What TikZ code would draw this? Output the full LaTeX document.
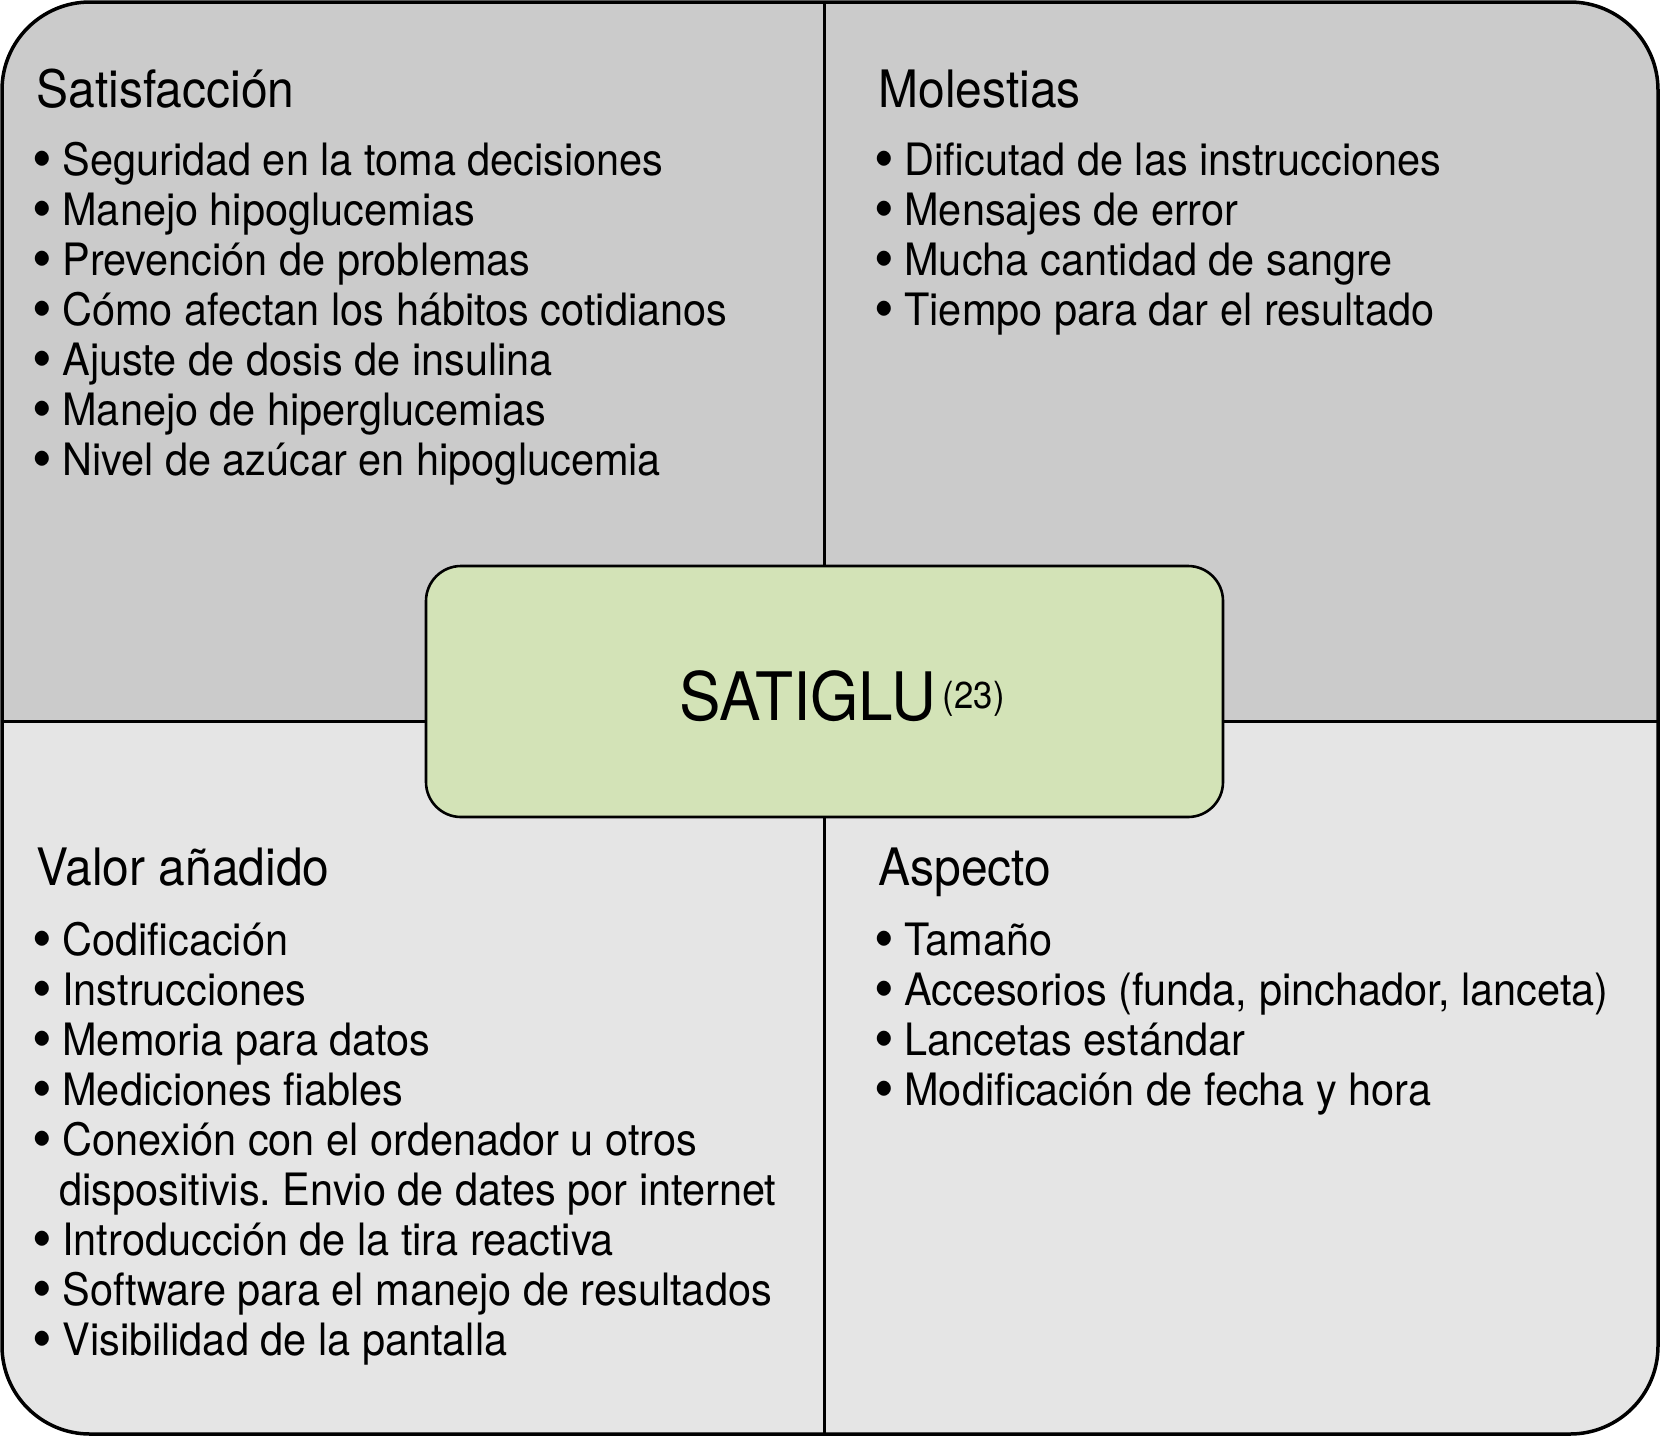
\documentclass[tikz,border=0pt]{standalone}
\usepackage{fontspec}
\setmainfont{TeX Gyre Heros}[FakeStretch=0.93]
\definecolor{topgray}{HTML}{CBCBCB}
\definecolor{botgray}{HTML}{E5E5E5}
\definecolor{boxgreen}{HTML}{D3E3B7}
\newcommand\mybul{\makebox[13pt][l]{\hspace{-1.8pt}\raisebox{-2.2pt}{\scalebox{1.35}{•}}}}
\frenchspacing
\begin{document}
\begin{tikzpicture}[x=0.5pt,y=-0.5pt,
  hdr/.style={anchor=base west,inner sep=0pt,font=\fontsize{25.8}{30}\selectfont},
  itm/.style={anchor=base west,inner sep=0pt,font=\fontsize{22.3}{26}\selectfont},
  divider/.style={line width=1.5pt},
  frame/.style={line width=1.75pt,rounded corners=44pt},
  corebox/.style={draw,line width=1.3pt,fill=boxgreen,rounded corners=17.5pt,
    minimum width=398.5pt,minimum height=125.5pt,inner sep=0pt}]
\useasboundingbox (0,0) rectangle (1660,1436);
\begin{scope}
  \clip[rounded corners=44pt] (2,2) rectangle (1658,1434);
  \fill[topgray] (0,0) rectangle (1660,721);
  \fill[botgray] (0,721) rectangle (1660,1436);
\end{scope}
\draw[divider] (824,2) -- (824,1434);
\draw[divider] (2,721) -- (1658,721);
\draw[frame] (2,2) rectangle (1658,1434);

\node (core) [corebox] at (824.5,691.5) {};
\node (satiglu) [anchor=base west,inner sep=0pt,font=\fontsize{33.4}{36}\selectfont]
  at (679,720) {SATIGLU\hspace{3.5pt}\raisebox{6pt}{\fontsize{18.7}{20}\selectfont(23)}};

% Satisfaccion
\node (hsat) [hdr] at (36,107) {Satisfacción};
\foreach \t [count=\i] in {{Seguridad en la toma decisiones},{Manejo hipoglucemias},
  {Prevención de problemas},{Cómo afectan los hábitos cotidianos},
  {Ajuste de dosis de insulina},{Manejo de hiperglucemias},
  {Nivel de azúcar en hipoglucemia}}
  \node (sat\i) [itm] at (36,125+50*\i) {\mybul\t};

% Molestias
\node (hmol) [hdr] at (878,107) {Molestias};
\foreach \t [count=\i] in {{Dificutad de las instrucciones},{Mensajes de error},
  {Mucha cantidad de sangre},{Tiempo para dar el resultado}}
  \node (mol\i) [itm] at (878,125+50*\i) {\mybul\t};

% Valor anadido
\node (hval) [hdr] at (36,885) {Valor añadido};
\foreach \t [count=\i] in {{Codificación},{Instrucciones},{Memoria para datos},
  {Mediciones fiables},{Conexión con el ordenador u otros}}
  \node (val\i) [itm] at (36,905+50*\i) {\mybul\t};
\node (val5b) [itm] at (59,1205) {dispositivis. Envio de dates por internet};
\foreach \t [count=\i] in {{Introducción de la tira reactiva},
  {Software para el manejo de resultados},{Visibilidad de la pantalla}}
  \node (valx\i) [itm] at (36,1205+50*\i) {\mybul\t};

% Aspecto
\node (hasp) [hdr] at (878,885) {Aspecto};
\foreach \t [count=\i] in {{Tamaño},{Accesorios (funda, pinchador, lanceta)},
  {Lancetas estándar},{Modificación de fecha y hora}}
  \node (asp\i) [itm] at (878,905+50*\i) {\mybul\t};
\end{tikzpicture}
\end{document}
